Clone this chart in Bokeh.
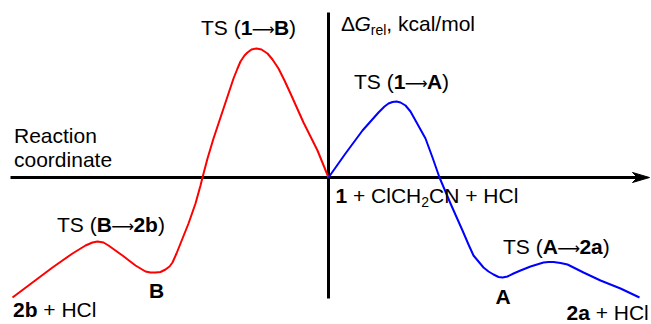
from bokeh.plotting import figure
from bokeh.models import Range1d
from bokeh.core.properties import value
from bokeh.embed import file_html
from bokeh.resources import INLINE

# ---- data: reaction coordinate (rc) and relative free energy (dG), arbitrary units ----
red_rc = [-316, -296, -276, -256, -243, -236, -231, -225, -220, -206, -193, -183, -178,
          -173, -168, -163, -159, -156, -152, -148, -140, -133, -128, -126, -121, -115,
          -105, -95, -91, -88, -84, -81, -77, -72, -67, -61, -56, -50, -44, -38, -25, -11, 0]
red_dG = [-120, -105, -90, -76, -68, -65, -64, -65, -68, -78, -88, -94, -95,
          -95, -94.5, -92, -89, -85, -76, -66, -46, -26, -8, 0, 19, 39,
          69, 99, 109, 116, 122, 125, 128, 129, 128, 124, 118, 109, 97, 84, 55, 27, 0]

blue_rc = [0, 17, 34, 50, 56, 60, 64, 68, 72, 77, 82, 87, 92, 97, 104, 111, 122, 134, 140,
           145, 150, 155, 160, 165, 170, 174, 179, 185, 192, 202, 215, 220, 225, 232, 239,
           247, 255, 272, 292, 311]
blue_dG = [0, 24, 47, 65, 71, 74, 75.5, 76, 75, 72, 66, 57, 48, 39, 20, 0, -26, -53, -67,
           -78, -84, -90, -94, -97, -99.5, -100, -99, -96, -93, -89, -85, -84.5, -84.5, -85.5, -87,
           -91, -95, -103, -111, -120]

# axis extents (same units)
x_axis_span = [-318, 309]
y_axis_span = [-121, 165]

# ---- labels: each is a list of (text, style) segments ----
lbl_ts_1B = [("TS (", "n"), ("1", "b"), ("\u27f6", "arr"), ("B", "b"), (")", "n")]
lbl_ts_1A = [("TS (", "n"), ("1", "b"), ("\u27f6", "arr"), ("A", "b"), (")", "n")]
lbl_ts_B2b = [("TS (", "n"), ("B", "b"), ("\u27f6", "arr"), ("2b", "b"), (")", "n")]
lbl_ts_A2a = [("TS (", "n"), ("A", "b"), ("\u27f6", "arr"), ("2a", "b"), (")", "n")]
lbl_yaxis = [("\u0394", "n"), ("G", "i"), ("rel", "s"), (", kcal/mol", "n")]
lbl_xaxis1 = [("Reaction", "n")]
lbl_xaxis2 = [("coordinate", "n")]
lbl_start = [("1", "b"), (" + ClCH", "n"), ("2", "s"), ("CN + HCl", "n")]
lbl_B = [("B", "b")]
lbl_A = [("A", "b")]
lbl_2b = [("2b", "b"), (" + HCl", "n")]
lbl_2a = [("2a", "b"), (" + HCl", "n")]

# label anchors (left x, baseline y) in chart units
placements = [
    (lbl_ts_1B, -127.5, 142),
    (lbl_ts_1A, 25.5, 88),
    (lbl_yaxis, 12.5, 146),
    (lbl_xaxis1, -314.5, 34),
    (lbl_xaxis2, -314.5, 10),
    (lbl_start, 7, -26),
    (lbl_ts_B2b, -271.5, -55),
    (lbl_B, -179.5, -121),
    (lbl_A, 167, -127),
    (lbl_2b, -315.5, -140),
    (lbl_ts_A2a, 174.5, -77),
    (lbl_2a, 238, -143),
]

FONT = "Liberation Sans"
FS = 21.0
SUB_FS = 14.0
ARR_FS = 16.0
ARROW_W = 21.6
BASE_FIX = 0.38  # em; compensates the renderer's baseline placement

# Arial/Liberation Sans advance widths (per 1000 em) for layout
W_REG = {' ': 278, '(': 333, ')': 333, '+': 584, ',': 278, '/': 278, 'C': 722, 'G': 778,
         'H': 722, 'N': 722, 'R': 722, 'S': 667, 'T': 611, 'a': 556, 'c': 500, 'd': 556,
         'e': 556, 'i': 222, 'k': 500, 'l': 222, 'm': 833, 'n': 556, 'o': 556, 'r': 333,
         't': 278, '\u0394': 640, '2': 556, '1': 556}
W_BOLD = {'1': 556, '2': 556, 'A': 722, 'B': 722, 'a': 556, 'b': 611}


def seg_width(txt, style):
    if style == "arr":
        return ARROW_W
    if style == "b":
        return sum(W_BOLD.get(c, 600) for c in txt) * FS / 1000.0
    size = SUB_FS if style == "s" else FS
    return sum(W_REG.get(c, 556) for c in txt) * size / 1000.0


groups = {k: {"x": [], "y": [], "t": []} for k in ("n", "b", "i", "s", "arr")}
for segs, x0, y0 in placements:
    cx = x0
    for txt, st in segs:
        # leading spaces are dropped by SVG text, so advance the cursor instead
        lead = len(txt) - len(txt.lstrip(" "))
        if lead:
            cx += seg_width(" " * lead, st)
            txt = txt.lstrip(" ")
        w = seg_width(txt, st)
        g = groups[st]
        if st == "arr":
            g["x"].append(cx + w / 2.0)
            g["y"].append(y0 + BASE_FIX * ARR_FS)
        elif st == "s":
            g["x"].append(cx)
            g["y"].append(y0 - 4 + BASE_FIX * SUB_FS)
        else:
            g["x"].append(cx)
            g["y"].append(y0 + BASE_FIX * FS)
        g["t"].append(txt)
        cx += w

p = figure(width=651, height=324, output_backend="svg", toolbar_location=None,
           x_range=Range1d(-328, 323), y_range=Range1d(-147, 177),
           min_border=0, outline_line_color=None, background_fill_color="white",
           border_fill_color="white")
p.axis.visible = False
p.grid.visible = False

# axes with arrow head at the end of the reaction coordinate
p.line(x=x_axis_span, y=[0, 0], line_color="black", line_width=3)
p.line(x=[0, 0], y=y_axis_span, line_color="black", line_width=3)
xe = x_axis_span[1]
p.patch(x=[xe + 12, xe - 5, xe, xe - 5], y=[0, 5, 0, -5],
        fill_color="black", line_color="black", line_width=1)

# energy profiles
p.line(x=red_rc, y=red_dG, line_color="#ff0000", line_width=2, line_join="round")
p.line(x=blue_rc, y=blue_dG, line_color="#0000ff", line_width=2, line_join="round")

common = dict(text_color="#000000", text_baseline="alphabetic")
fs = "%gpx" % FS
p.text(x=groups["n"]["x"], y=groups["n"]["y"], text=groups["n"]["t"], text_font=value(FONT),
       text_font_size=fs, text_align="left", **common)
p.text(x=groups["b"]["x"], y=groups["b"]["y"], text=groups["b"]["t"], text_font=value(FONT),
       text_font_size=fs, text_font_style="bold", text_align="left", **common)
p.text(x=groups["i"]["x"], y=groups["i"]["y"], text=groups["i"]["t"], text_font=value(FONT),
       text_font_size=fs, text_font_style="italic", text_align="left", **common)
p.text(x=groups["s"]["x"], y=groups["s"]["y"], text=groups["s"]["t"], text_font=value(FONT),
       text_font_size="%gpx" % SUB_FS, text_align="left", **common)
p.text(x=groups["arr"]["x"], y=groups["arr"]["y"], text=groups["arr"]["t"],
       text_font=value("DejaVu Sans"), text_font_size="%gpx" % ARR_FS, text_align="center",
       **common)

open("out.html", "w").write(file_html(p, INLINE))
